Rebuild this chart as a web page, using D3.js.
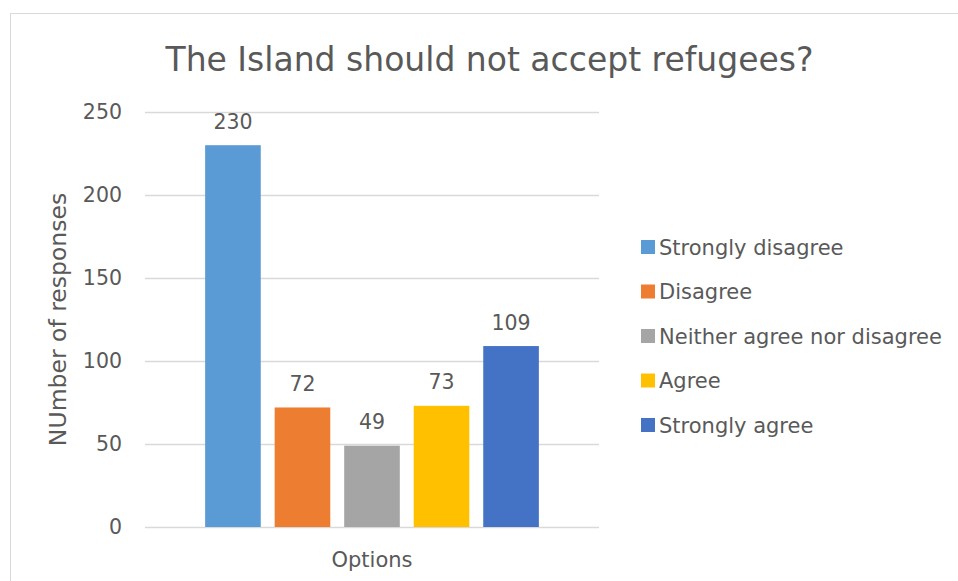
<!DOCTYPE html>
<html>
<head>
<meta charset="utf-8">
<script src="https://cdn.jsdelivr.net/npm/d3@7"></script>
<style>
  html, body { margin: 0; padding: 0; background: #fff; }
  svg { display: block; }
  text { font-family: "DejaVu Sans", Verdana, sans-serif; fill: #595959; }
</style>
</head>
<body>
<svg id="chart" width="958" height="581"></svg>
<script>
const titleText = "The Island should not accept refugees?";
const categories = ["Options"];
const seriesNames = ["Strongly disagree", "Disagree", "Neither agree nor disagree", "Agree", "Strongly agree"];
const seriesValues = [230, 72, 49, 73, 109];
const seriesColors = ["#5B9BD5", "#ED7D31", "#A5A5A5", "#FFC000", "#4472C4"];
const yTicks = [0, 50, 100, 150, 200, 250];
const yTitle = "NUmber of responses";

const svg = d3.select("#chart");

// chart border
svg.append("rect")
  .attr("x", 10.5).attr("y", 13.5)
  .attr("width", 960).attr("height", 600)
  .attr("fill", "#fff").attr("stroke", "#d9d9d9").attr("stroke-width", 1);

const plot = { left: 145, right: 599, top: 112, bottom: 527 };

const y = d3.scaleLinear().domain([0, 250]).range([plot.bottom, plot.top]);
const x0 = d3.scaleBand().domain(categories).range([plot.left, plot.right])
  .paddingInner(0).paddingOuter(0.153);
const x1 = d3.scaleBand().domain(seriesNames).range([0, x0.bandwidth()])
  .paddingInner(0.2).paddingOuter(0.1);

// gridlines + axis labels via d3 axis
const yAxis = d3.axisLeft(y).tickValues(yTicks).tickSize(-(plot.right - plot.left)).tickPadding(23);
const gy = svg.append("g").attr("transform", `translate(${plot.left},0)`).call(yAxis);
gy.select(".domain").remove();
gy.selectAll(".tick line").attr("stroke", "#d9d9d9").attr("stroke-width", 1.3);
gy.selectAll(".tick text")
  .style("font-family", '"DejaVu Sans", Verdana, sans-serif')
  .attr("font-size", 20.5).attr("fill", "#595959").attr("dy", "0.33em");

// bars
const g = svg.append("g");
categories.forEach(cat => {
  seriesNames.forEach((s, i) => {
    const v = seriesValues[i];
    const bx = x0(cat) + x1(s);
    g.append("rect")
      .attr("x", bx).attr("y", y(v))
      .attr("width", x1.bandwidth()).attr("height", y(0) - y(v))
      .attr("fill", seriesColors[i]);
    g.append("text")
      .attr("x", bx + x1.bandwidth() / 2).attr("y", y(v) - 16.5)
      .attr("text-anchor", "middle").attr("font-size", 20.5)
      .attr("fill", "#404040")
      .text(v);
  });
  svg.append("text")
    .attr("x", x0(cat) + x0.bandwidth() / 2).attr("y", 566.5)
    .attr("text-anchor", "middle").attr("font-size", 21)
    .text(cat);
});

// title
svg.append("text")
  .attr("x", 489.5).attr("y", 70.5)
  .attr("text-anchor", "middle").attr("font-size", 33)
  .text(titleText);

// y title
svg.append("text")
  .attr("transform", `translate(66,${(plot.top + plot.bottom) / 2}) rotate(-90)`)
  .attr("text-anchor", "middle").attr("font-size", 23.5)
  .text(yTitle);

// legend
const legY = d3.scalePoint().domain(seriesNames).range([247, 425]);
const leg = svg.append("g");
seriesNames.forEach((s, i) => {
  const cy = legY(s);
  leg.append("rect")
    .attr("x", 641).attr("y", cy - 7)
    .attr("width", 14).attr("height", 14)
    .attr("fill", seriesColors[i]);
  leg.append("text")
    .attr("x", 659).attr("y", cy + 7.5)
    .attr("font-size", 21)
    .text(s);
});
</script>
</body>
</html>
